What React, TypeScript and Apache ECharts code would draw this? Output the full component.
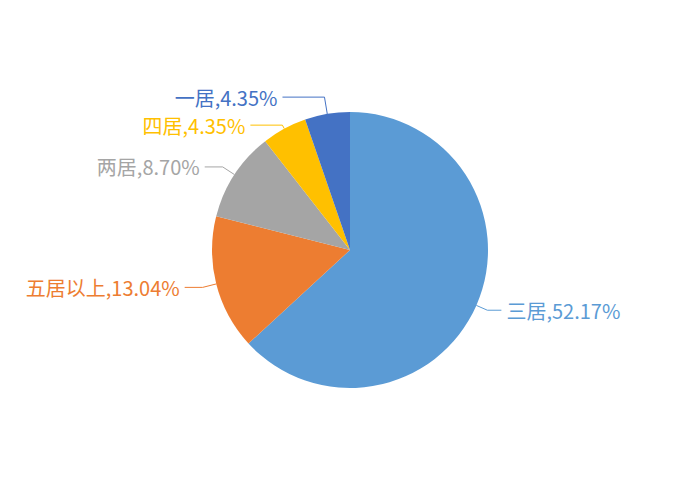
import React, { useEffect, useRef } from "react";
import * as echarts from "echarts";

const categories = ["三居", "五居以上", "两居", "四居", "一居"];
const percents = [52.17, 13.04, 8.7, 4.35, 4.35];
const colors = ["#5B9BD5", "#ED7D31", "#A5A5A5", "#FFC000", "#4472C4"];
const lineLengths = [12, 14, 14, 4, 17];
const lineLengths2 = [14, 18, 18, 32, 42];

export default function App() {
  const ref = useRef<HTMLDivElement>(null);
  useEffect(() => {
    if (!ref.current) return;
    const chart = echarts.init(ref.current, undefined, { renderer: "svg" });
    chart.setOption({
      animation: false,
      backgroundColor: "#ffffff",
      series: [
        {
          type: "pie",
          center: [342, 242],
          radius: [0, 138],
          startAngle: 90,
          clockwise: true,
          avoidLabelOverlap: true,
          data: categories.map((name, i) => ({
            name,
            value: percents[i],
            itemStyle: { color: colors[i] },
            label: { color: colors[i] },
            labelLine: {
              length: lineLengths[i],
              length2: lineLengths2[i],
              lineStyle: { color: colors[i] },
            },
          })),
          label: {
            show: true,
            fontSize: 20,
            lineHeight: 20,
            fontFamily: "Noto Sans CJK SC",
            formatter: (p: any) => `${p.name},${p.value.toFixed(2)}%`,
          },
          labelLine: { show: true, length: 14, length2: 18, lineStyle: { width: 1 } },
        },
      ],
    });
    return () => chart.dispose();
  }, []);
  return <div ref={ref} style={{ width: 684, height: 484 }} />;
}
